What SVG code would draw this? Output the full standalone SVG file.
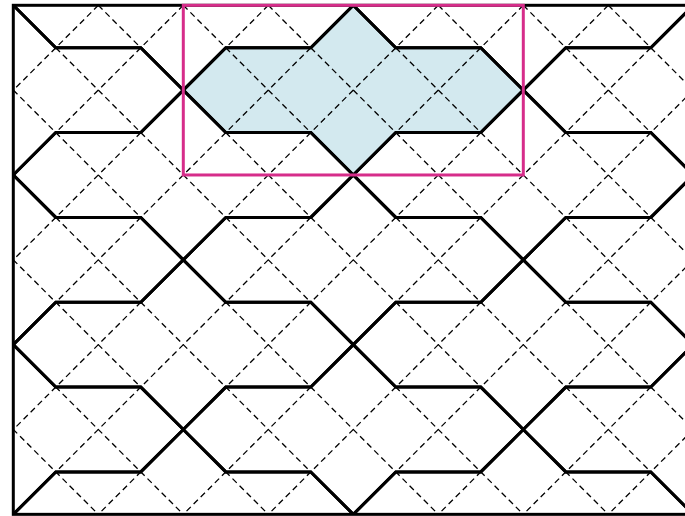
<svg xmlns="http://www.w3.org/2000/svg" xmlns:xlink="http://www.w3.org/1999/xlink" width="685" height="516" viewBox="0 0 685 516">
  <style>
    .dash { fill: none; stroke: #000; stroke-width: 1.3; stroke-dasharray: 6 4; }
    .tile { fill: none; stroke: #000; stroke-width: 3; stroke-linejoin: miter; }
    .border { fill: none; stroke: #000; stroke-width: 3; }
    .frame { fill: none; stroke: #d62d8a; stroke-width: 3; }
    .shade { fill: #d3e9ef; stroke: none; }
  </style>
  <defs>
    <clipPath id="clip">
      <rect x="13.3" y="5.3" width="680" height="509.04"/>
    </clipPath>
    <path id="cell" d="M0,0 L42.5,-42.42 L127.5,-42.42 L170,-84.84 L212.5,-42.42 L297.5,-42.42 L340,0 L297.5,42.42 L212.5,42.42 L170,84.84 L127.5,42.42 L42.5,42.42 Z"/>
  </defs>
  <rect width="685" height="516" fill="#fff"/>

  <g id="highlighted-tile">
    <use xlink:href="#cell" class="shade" transform="translate(183.3,90.14)"/>
  </g>

  <g id="grid" clip-path="url(#clip)">
    <path class="dash" d="M98.3,5.3 L-411.7,514.34 M183.3,5.3 L-326.7,514.34 M268.3,5.3 L-241.7,514.34 M353.3,5.3 L-156.7,514.34 M438.3,5.3 L-71.7,514.34 M523.3,5.3 L13.3,514.34 M608.3,5.3 L98.3,514.34 M693.3,5.3 L183.3,514.34 M778.3,5.3 L268.3,514.34 M863.3,5.3 L353.3,514.34 M948.3,5.3 L438.3,514.34 M1033.3,5.3 L523.3,514.34 M1118.3,5.3 L608.3,514.34"/>
    <path class="dash" d="M-411.7,5.3 L98.3,514.34 M-326.7,5.3 L183.3,514.34 M-241.7,5.3 L268.3,514.34 M-156.7,5.3 L353.3,514.34 M-71.7,5.3 L438.3,514.34 M13.3,5.3 L523.3,514.34 M98.3,5.3 L608.3,514.34 M183.3,5.3 L693.3,514.34 M268.3,5.3 L778.3,514.34 M353.3,5.3 L863.3,514.34 M438.3,5.3 L948.3,514.34 M523.3,5.3 L1033.3,514.34 M608.3,5.3 L1118.3,514.34"/>
  </g>

  <g id="tiling" clip-path="url(#clip)">
    <use xlink:href="#cell" class="tile" transform="translate(-326.7,5.3)"/>
    <use xlink:href="#cell" class="tile" transform="translate(13.3,5.3)"/>
    <use xlink:href="#cell" class="tile" transform="translate(353.3,5.3)"/>
    <use xlink:href="#cell" class="tile" transform="translate(693.3,5.3)"/>
    <use xlink:href="#cell" class="tile" transform="translate(-156.7,90.14)"/>
    <use xlink:href="#cell" class="tile" transform="translate(183.3,90.14)"/>
    <use xlink:href="#cell" class="tile" transform="translate(523.3,90.14)"/>
    <use xlink:href="#cell" class="tile" transform="translate(-326.7,174.98)"/>
    <use xlink:href="#cell" class="tile" transform="translate(13.3,174.98)"/>
    <use xlink:href="#cell" class="tile" transform="translate(353.3,174.98)"/>
    <use xlink:href="#cell" class="tile" transform="translate(693.3,174.98)"/>
    <use xlink:href="#cell" class="tile" transform="translate(-156.7,259.82)"/>
    <use xlink:href="#cell" class="tile" transform="translate(183.3,259.82)"/>
    <use xlink:href="#cell" class="tile" transform="translate(523.3,259.82)"/>
    <use xlink:href="#cell" class="tile" transform="translate(-326.7,344.66)"/>
    <use xlink:href="#cell" class="tile" transform="translate(13.3,344.66)"/>
    <use xlink:href="#cell" class="tile" transform="translate(353.3,344.66)"/>
    <use xlink:href="#cell" class="tile" transform="translate(693.3,344.66)"/>
    <use xlink:href="#cell" class="tile" transform="translate(-156.7,429.5)"/>
    <use xlink:href="#cell" class="tile" transform="translate(183.3,429.5)"/>
    <use xlink:href="#cell" class="tile" transform="translate(523.3,429.5)"/>
    <use xlink:href="#cell" class="tile" transform="translate(-326.7,514.34)"/>
    <use xlink:href="#cell" class="tile" transform="translate(13.3,514.34)"/>
    <use xlink:href="#cell" class="tile" transform="translate(353.3,514.34)"/>
    <use xlink:href="#cell" class="tile" transform="translate(693.3,514.34)"/>
  </g>

  <g id="border">
    <rect class="border" x="13.3" y="5.3" width="680" height="509.04"/>
  </g>

  <g id="selection-frame">
    <rect class="frame" x="183.3" y="5.3" width="340" height="169.68"/>
  </g>
</svg>
